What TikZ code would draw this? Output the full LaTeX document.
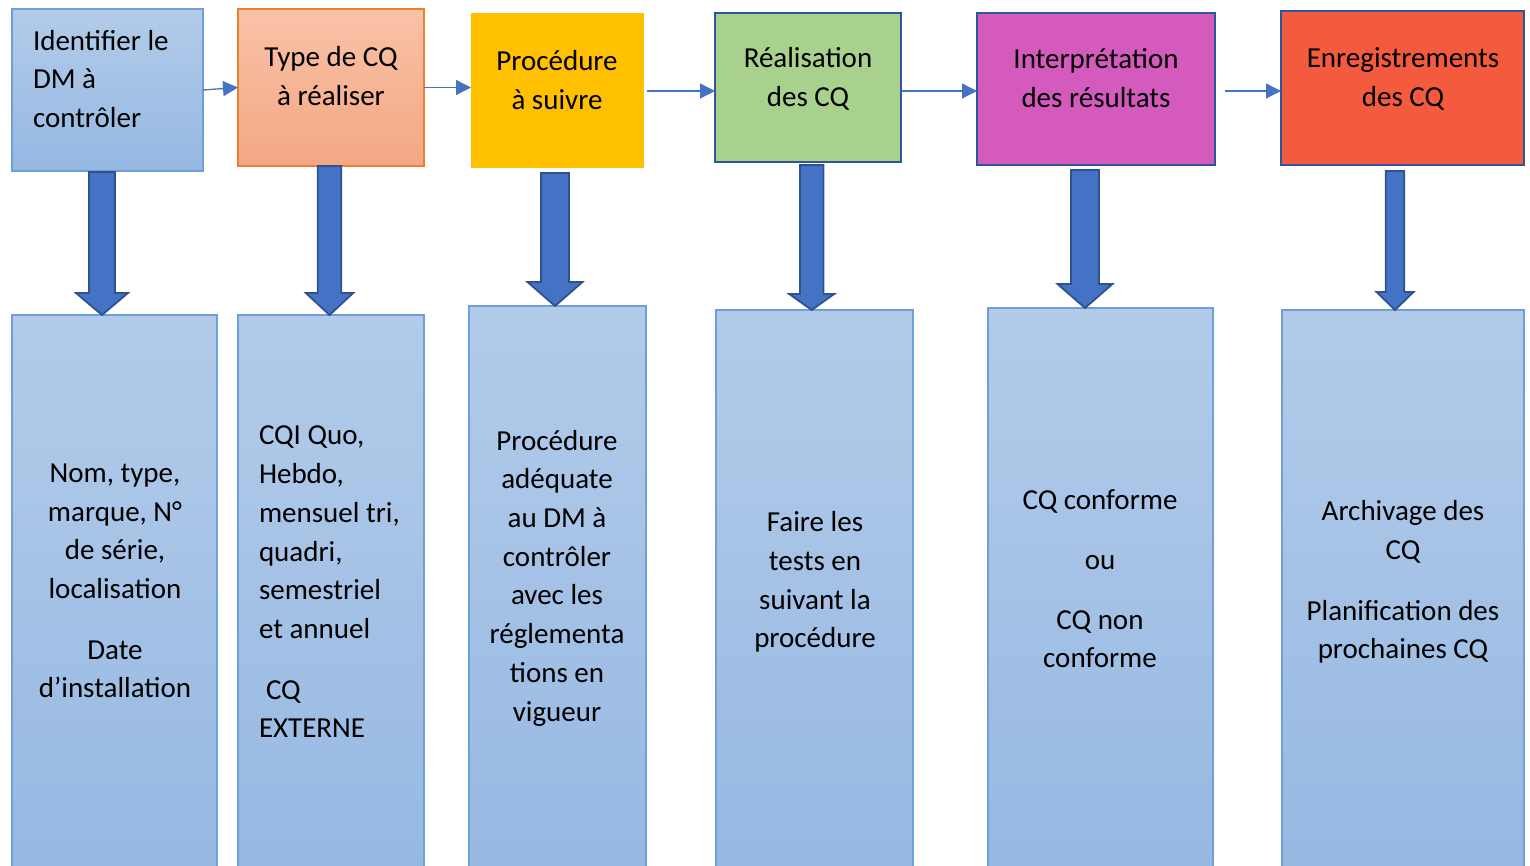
\documentclass[tikz,border=0pt]{standalone}
\usepackage{fontspec}
\setmainfont{Carlito}
\usetikzlibrary{arrows.meta,calc}

\definecolor{paleblueT}{HTML}{B3CBE9}
\definecolor{paleblueB}{HTML}{95B8E2}
\definecolor{paleedge}{HTML}{6E9FD8}
\definecolor{salmonT}{HTML}{F8C2A7}
\definecolor{salmonB}{HTML}{F4A783}
\definecolor{salmonedge}{HTML}{ED7D31}
\definecolor{amber}{HTML}{FFC000}
\definecolor{leaf}{HTML}{A9D18E}
\definecolor{orchid}{HTML}{D45ABE}
\definecolor{tomato}{HTML}{F35A3E}
\definecolor{navyedge}{HTML}{2F5597}
\definecolor{arrowblue}{HTML}{4472C4}
\definecolor{arrowedge}{HTML}{2F528F}

\newcommand\bodyfont{\fontsize{29}{38.7}\selectfont}

% Thick outlined block arrow from the bottom of one box to the top of another
% #1 upper box, #2 lower box, #3 centre x, #4 gap below the upper box,
% #5 shaft half-width, #6 head half-width, #7 head length
\newcommand\blockarr[7]{%
  \path let \p1=(#1.south), \p2=(#2.north) in
    coordinate (ba-top) at (#3pt, \y1-#4pt)
    coordinate (ba-tip) at (#3pt, \y2);
  \filldraw[blockarrow]
    ([xshift=-#5pt]ba-top) -- ([xshift=#5pt]ba-top)
    -- ([xshift=#5pt,yshift=#7pt]ba-tip) -- ([xshift=#6pt,yshift=#7pt]ba-tip)
    -- (ba-tip)
    -- ([xshift=-#6pt,yshift=#7pt]ba-tip) -- ([xshift=-#5pt,yshift=#7pt]ba-tip)
    -- cycle;}

\tikzset{
  every node/.style={inner sep=0pt, outer sep=0pt},
  box/.style={anchor=north west, line width=1.4pt},
  palebox/.style={box, draw=paleedge, top color=paleblueT, bottom color=paleblueB},
  navybox/.style={box, draw=navyedge, line width=2.4pt},
  lbl/.style={font=\bodyfont, align=center, text=black},
  flow/.style={draw=arrowblue, line width=1.3pt, -{Triangle[length=15pt,width=15pt]}},
  blockarrow/.style={fill=arrowblue, draw=arrowedge, line width=1.8pt, line join=miter},
}

\begin{document}
\begin{tikzpicture}[x=1pt, y=-1pt]
\useasboundingbox (0,0) rectangle (1530,866);

% upper row of steps
\node[palebox, minimum width=191pt, minimum height=162pt] (t1) at (12,9) {};
\node[box, draw=salmonedge, top color=salmonT, bottom color=salmonB,
      minimum width=186pt, minimum height=157pt] (t2) at (238,9) {};
\node[box, fill=amber, minimum width=173pt, minimum height=155pt] (t3) at (471,13) {};
\node[navybox, fill=leaf, minimum width=186pt, minimum height=149pt] (t4) at (715,13) {};
\node[navybox, fill=orchid, minimum width=238pt, minimum height=152pt] (t5) at (977,13) {};
\node[navybox, fill=tomato, minimum width=243pt, minimum height=154pt] (t6) at (1281,11) {};

% lower row of details (running off the bottom edge)
\node[palebox, minimum width=205pt, minimum height=570pt] (b1) at (12,315) {};
\node[palebox, minimum width=186pt, minimum height=570pt] (b2) at (238,315) {};
\node[palebox, minimum width=177pt, minimum height=580pt] (b3) at (469,306) {};
\node[palebox, minimum width=197pt, minimum height=575pt] (b4) at (716,310) {};
\node[palebox, minimum width=225pt, minimum height=578pt] (b5) at (988,308) {};
\node[palebox, minimum width=242pt, minimum height=575pt] (b6) at (1282,310) {};

% step titles
\node[lbl, align=left, anchor=west] (l1) at (33,79) {Identifier le\\DM à\\contrôler};
\node[lbl] (l2) at (331,76) {Type de CQ\\à réaliser};
\node[lbl] (l3) at (557,80) {Procédure\\à suivre};
\node[lbl] (l4) at (808,79) {Réalisation\\des CQ};
\node[lbl] (l5) at (1096,78) {Interprétation\\des résultats};
\node[lbl] (l6) at (1403,79) {Enregistrements\\des CQ};

% step details
\node[lbl] (d1) at (115,581) {Nom, type,\\marque, N°\\de série,\\localisation\\[22pt]Date\\d’installation};
\node[lbl, align=left, anchor=west] (d2) at (259,582) {CQI Quo,\\Hebdo,\\mensuel tri,\\quadri,\\semestriel\\et annuel\\[22pt]\hspace*{7pt}CQ\\EXTERNE};
\node[lbl] (d3) at (557,578) {Procédure\\adéquate\\au DM à\\contrôler\\avec les\\réglementa\\tions en\\vigueur};
\node[lbl] (d4) at (815,582) {Faire les\\tests en\\suivant la\\procédure};
\node[lbl] (d5) at (1100,579) {CQ conforme\\[21pt]ou\\[21pt]CQ non\\conforme};
\node[lbl] (d6) at (1403,582) {Archivage des\\CQ\\[22pt]Planification des\\prochaines CQ};

% flow between steps
\draw[flow] (t1.east) -- (t2.west);
\draw[flow] (t2.east) -- (t2.east -| t3.west);
\draw[flow] ([xshift=3pt,yshift=-0.5pt]t3.east) -- ([yshift=-0.5pt]t3.east -| t4.west);
\draw[flow] ([yshift=-3.5pt]t4.east) -- ([yshift=-3.5pt]t4.east -| t5.west);
\draw[flow] ([xshift=10pt,yshift=-2pt]t5.east) -- ([yshift=-2pt]t5.east -| t6.west);

% from each step down to its details
\blockarr{t1}{b1}{102}{1}{13}{26}{22}
\blockarr{t2}{b2}{329.5}{0}{11.7}{23.7}{22}
\blockarr{t3}{b3}{555}{5}{14}{27.5}{24}
\blockarr{t4}{b4}{811.7}{3}{11.7}{22.5}{16}
\blockarr{t5}{b5}{1085}{5}{14}{27.5}{24}
\blockarr{t6}{b6}{1395}{6}{9.2}{18.5}{18}
\end{tikzpicture}
\end{document}
